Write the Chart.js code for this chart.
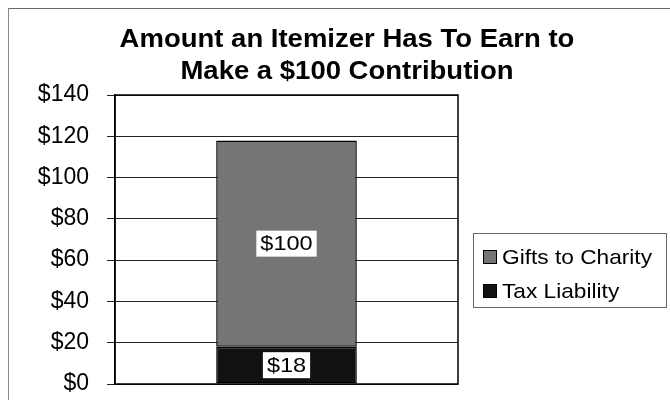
<!DOCTYPE html>
<html>
<head>
<meta charset="utf-8">
<script src="https://cdn.jsdelivr.net/npm/chart.js@4.4.1/dist/chart.umd.min.js"></script>
<style>
  html, body { margin: 0; padding: 0; background: #fff; }
  #wrap { position: relative; width: 670px; height: 400px; }
  #frame { position: absolute; left: 8px; top: 8px; right: -2px; bottom: -2px;
           border-left: 1px solid #8a8a8a; border-top: 1px solid #6a6a6a; }
  canvas { position: absolute; left: 0; top: 0; }
</style>
</head>
<body>
<div id="wrap">
  <div id="frame"></div>
  <canvas id="barChart" width="670" height="400"></canvas>
</div>
<script>
let categorias = [""];
let impostos = [18];
let doacoes = [100];
let rotulosY = ["$0", "$20", "$40", "$60", "$80", "$100", "$120", "$140"];
let titulo = ["Amount an Itemizer Has To Earn to", "Make a $100 Contribution"];

const fonte = "'Liberation Sans', Arial, Helvetica, sans-serif";

// texto um pouco esticado na horizontal
function texto(c, txt, x, y, esticar) {
  c.save();
  c.translate(x, y);
  c.scale(esticar, 1);
  c.fillText(txt, 0, 0);
  c.restore();
}

// titulo, legenda e rotulos desenhados a mao
let extras = {
  id: "extras",
  afterDraw(chart) {
    let c = chart.ctx;
    c.save();
    c.fillStyle = "#000";
    c.textAlign = "center";
    c.textBaseline = "middle";
    c.font = "bold 25px " + fonte;
    texto(c, titulo[0], 347, 40, 1.1);
    texto(c, titulo[1], 347, 72, 1.1);

    // rotulos de valor nas barras
    c.font = "21px " + fonte;
    chart.data.datasets.forEach((ds, i) => {
      let bar = chart.getDatasetMeta(i).data[0];
      let meio = (bar.y + bar.base) / 2;
      let txt = "$" + ds.data[0];
      let w = c.measureText(txt).width * 1.12 + 8;
      c.fillStyle = "#fff";
      c.fillRect(bar.x - w / 2, meio - 13, w, 26);
      c.fillStyle = "#000";
      texto(c, txt, bar.x, meio + 1, 1.12);
    });

    // legenda
    c.strokeStyle = "#666";
    c.lineWidth = 1;
    c.strokeRect(473.5, 233.5, 193, 74);
    let itens = [chart.data.datasets[1], chart.data.datasets[0]];
    c.textAlign = "left";
    c.font = "21px " + fonte;
    itens.forEach((ds, i) => {
      let y = 257 + i * 34;
      c.fillStyle = ds.backgroundColor;
      c.fillRect(483, y - 7, 14, 14);
      c.strokeStyle = "#000";
      c.strokeRect(483.5, y - 6.5, 13, 13);
      c.fillStyle = "#000";
      texto(c, ds.label, 502, y + 1, 1.08);
    });
    c.restore();
  },
};

let ctx = document.getElementById("barChart");

let barChart = new Chart(ctx, {
  type: "bar",
  data: {
    labels: categorias,
    datasets: [
      {
        label: "Tax Liability",
        data: impostos,
        backgroundColor: "#111111",
        borderColor: "#000",
        borderWidth: 1.5,
        borderSkipped: false,
        barPercentage: 0.41,
        categoryPercentage: 1,
      },
      {
        label: "Gifts to Charity",
        data: doacoes,
        backgroundColor: "#757575",
        borderColor: "#000",
        borderWidth: 1.5,
        borderSkipped: false,
        barPercentage: 0.41,
        categoryPercentage: 1,
      },
    ],
  },
  options: {
    responsive: false,
    animation: false,
    layout: { padding: { top: 95, right: 212, bottom: 16, left: 0 } },
    plugins: {
      legend: { display: false },
      title: { display: false },
      tooltip: { enabled: false },
    },
    scales: {
      x: {
        stacked: true,
        display: false,
      },
      y: {
        stacked: true,
        min: 0,
        max: 140,
        afterFit: (s) => {
          s.width = 115;
          s.paddingTop = 0;
          s.paddingBottom = 0;
        },
        afterBuildTicks: (s) => {
          s.ticks = rotulosY.map((r, i) => ({ value: i * 20 }));
        },
        border: { display: true, color: "#000", width: 1.5 },
        grid: { color: "#222", lineWidth: 1, tickLength: 8, drawTicks: true },
        ticks: {
          padding: 18,
          color: "#000",
          font: { family: fonte, size: 23 },
          callback: (v, i) => rotulosY[i],
        },
      },
    },
  },
  plugins: [
    extras,
    {
      id: "caixa",
      beforeDatasetsDraw(chart) {
        let a = chart.chartArea;
        let c = chart.ctx;
        c.save();
        c.strokeStyle = "#000";
        c.lineWidth = 1.5;
        c.strokeRect(a.left, a.top, a.right - a.left, a.bottom - a.top);
        c.restore();
      },
    },
  ],
});
</script>
</body>
</html>
